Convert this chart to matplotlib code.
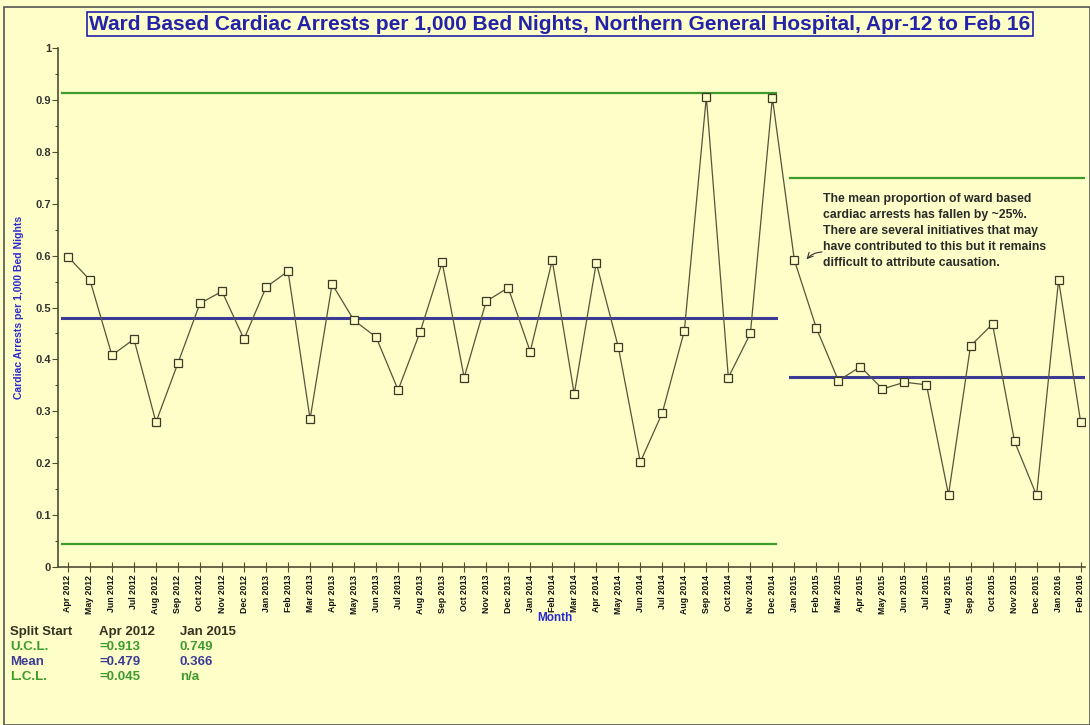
import numpy as np
import matplotlib.pyplot as plt
from matplotlib.patches import Rectangle

plt.rcParams['font.family'] = ['Liberation Sans', 'DejaVu Sans']

months = ['Apr 2012', 'May 2012', 'Jun 2012', 'Jul 2012', 'Aug 2012', 'Sep 2012',
          'Oct 2012', 'Nov 2012', 'Dec 2012', 'Jan 2013', 'Feb 2013', 'Mar 2013',
          'Apr 2013', 'May 2013', 'Jun 2013', 'Jul 2013', 'Aug 2013', 'Sep 2013',
          'Oct 2013', 'Nov 2013', 'Dec 2013', 'Jan 2014', 'Feb 2014', 'Mar 2014',
          'Apr 2014', 'May 2014', 'Jun 2014', 'Jul 2014', 'Aug 2014', 'Sep 2014',
          'Oct 2014', 'Nov 2014', 'Dec 2014', 'Jan 2015', 'Feb 2015', 'Mar 2015',
          'Apr 2015', 'May 2015', 'Jun 2015', 'Jul 2015', 'Aug 2015', 'Sep 2015',
          'Oct 2015', 'Nov 2015', 'Dec 2015', 'Jan 2016', 'Feb 2016']

rate = [0.598, 0.553, 0.408, 0.439, 0.279, 0.393,
        0.508, 0.531, 0.439, 0.539, 0.570, 0.285,
        0.545, 0.475, 0.443, 0.341, 0.453, 0.587,
        0.365, 0.512, 0.538, 0.415, 0.591, 0.333,
        0.586, 0.424, 0.202, 0.297, 0.455, 0.906,
        0.365, 0.450, 0.904, 0.591, 0.460, 0.359,
        0.386, 0.343, 0.356, 0.351, 0.139, 0.426,
        0.468, 0.242, 0.138, 0.553, 0.280]

# control limits per split
split_start = ['Apr 2012', 'Jan 2015']
split_first = [0, 33]
split_last = [32, 46]
ucl = [0.913, 0.749]
mean = [0.479, 0.366]
lcl = [0.045, None]

bg = '#fefec8'
green = '#3d9a2d'
navy = '#3c3c96'
olive = '#4e4e32'
blue_txt = '#2a2ad0'

fig = plt.figure(figsize=(10.9, 7.25), dpi=100, facecolor=bg)
ax = fig.add_axes([58 / 1090, 158 / 725, 1027 / 1090, 519 / 725])
ax.set_facecolor(bg)

x = np.arange(len(months))

for i in range(len(split_start)):
    x0 = split_first[i] - 0.25 if i == 0 else split_first[i] - 0.2
    x1 = split_last[i] + 0.15
    ax.plot([x0, x1], [ucl[i], ucl[i]], color=green, lw=1.6, zorder=2)
    ax.plot([x0, x1], [mean[i], mean[i]], color=navy, lw=2.2, zorder=2)
    if lcl[i] is not None:
        ax.plot([x0, x1], [lcl[i], lcl[i]], color=green, lw=1.6, zorder=2)

ax.plot(x, rate, color='#55553c', lw=0.9, marker='s', ms=5.5, mfc=bg,
        mec='#3a3a28', mew=0.9, zorder=3)

ax.set_xlim(-0.45, 46.2)
ax.set_ylim(0, 1)
ax.set_xticks(x)
ax.set_xticklabels(months, rotation=90, fontsize=6.3, fontweight='bold', color='#111111')
ax.set_yticks(np.arange(0, 1.01, 0.1))
ax.set_yticklabels(['0'] + ['%.1f' % v for v in np.arange(0.1, 0.95, 0.1)] + ['1'],
                   fontsize=8, fontweight='bold', color='#333333')
ax.set_yticks(np.arange(0.05, 1.0, 0.1), minor=True)
ax.tick_params(axis='x', direction='inout', length=7, width=0.8, color=olive, pad=2)
ax.tick_params(axis='y', which='major', direction='out', length=4, width=0.8, color=olive, pad=1)
ax.tick_params(axis='y', which='minor', direction='out', length=2.5, width=0.8, color=olive)

for side in ['top', 'right']:
    ax.spines[side].set_visible(False)
for side in ['left', 'bottom']:
    ax.spines[side].set_color(olive)
    ax.spines[side].set_linewidth(1.2)

fig.text(555 / 1090, 1 - 612 / 725, 'Month', ha='center', va='top',
         fontsize=8.5, fontweight='bold', color=blue_txt)
ax.set_ylabel('Cardiac Arrests per 1,000 Bed Nights', fontsize=7.5, fontweight='bold',
              color=blue_txt, labelpad=8)

fig.text(560 / 1090, 1 - 24 / 725,
         'Ward Based Cardiac Arrests per 1,000 Bed Nights, Northern General Hospital, Apr-12 to Feb 16',
         ha='center', va='center', fontsize=15, fontweight='bold', color='#2222aa',
         bbox=dict(boxstyle='square,pad=0.1', fc=bg, ec='#2222aa', lw=1.2))

note = ('The mean proportion of ward based\n'
        'cardiac arrests has fallen by ~25%.\n'
        'There are several initiatives that may\n'
        'have contributed to this but it remains\n'
        'difficult to attribute causation.')
fig.text(823 / 1090, 1 - 231 / 725, note, fontsize=8.8, fontweight='bold',
         color='#2a2a2a', va='center', ha='left', linespacing=1.42)
ax.annotate('', xy=(33.55, rate[33] + 0.002), xytext=(34.25, 0.607),
            arrowprops=dict(arrowstyle='->', color='#333333', lw=0.8,
                            shrinkA=0, shrinkB=0, connectionstyle='arc3,rad=0.2'))

# summary table under the axis
rows = [('Split Start', 'Apr 2012', 'Jan 2015', '#333322'),
        ('U.C.L.', '=%.3f' % ucl[0], '%.3f' % ucl[1], green),
        ('Mean', '=%.3f' % mean[0], '%.3f' % mean[1], navy),
        ('L.C.L.', '=%.3f' % lcl[0], 'n/a', green)]
for r, (name, v1, v2, col) in enumerate(rows):
    yy = 1 - (632 + 15 * r) / 725
    fig.text(10 / 1090, yy, name, fontsize=9.5, fontweight='bold', color=col, va='center')
    fig.text(99 / 1090, yy, v1, fontsize=9.5, fontweight='bold', color=col, va='center')
    fig.text(180 / 1090, yy, v2, fontsize=9.5, fontweight='bold', color=col, va='center')

# thin frame around the figure
fig.patches.append(Rectangle((0.004, 0.0), 0.996, 0.99, transform=fig.transFigure,
                             fill=False, ec='#555555', lw=1.2))

fig.savefig('out.png', dpi=100, facecolor=bg)
